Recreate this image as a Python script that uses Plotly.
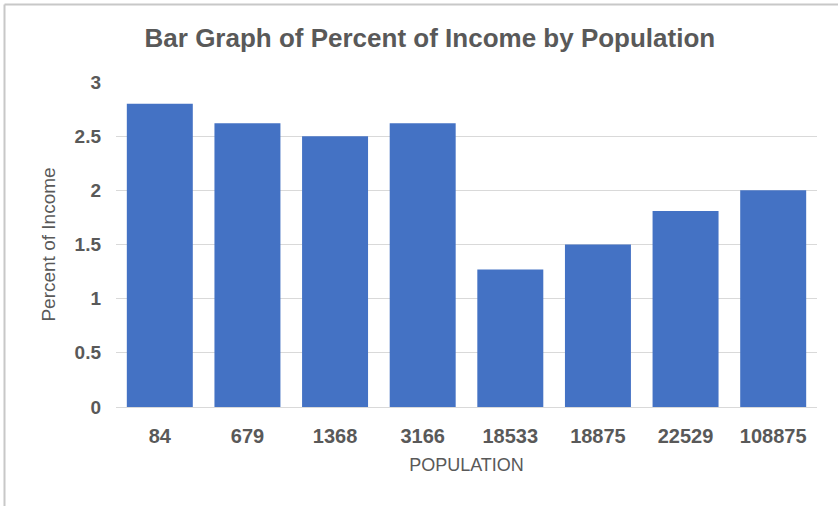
import plotly.graph_objects as go

populations = ["84", "679", "1368", "3166", "18533", "18875", "22529", "108875"]
percent_income = [2.8, 2.62, 2.5, 2.62, 1.27, 1.5, 1.81, 2.0]
y_ticks = [0, 0.5, 1, 1.5, 2, 2.5, 3]
y_tick_text = ["0", "0.5", "1", "1.5", "2", "2.5", "3"]

text_color = "#595959"
font_family = "Arial, Liberation Sans, sans-serif"

fig = go.Figure(
    go.Bar(
        x=populations,
        y=percent_income,
        marker=dict(color="#4472C4", line=dict(width=0)),
    )
)

fig.update_layout(
    width=838,
    height=506,
    margin=dict(l=116, r=21, t=82, b=99, autoexpand=False),
    paper_bgcolor="white",
    plot_bgcolor="white",
    bargap=0.247,
    showlegend=False,
    font=dict(family=font_family, color=text_color),
    title=dict(
        text="<b>Bar Graph of Percent of Income by Population</b>",
        x=0.513,
        xanchor="center",
        xref="container",
        y=1 - 38 / 506,
        yanchor="middle",
        yref="container",
        font=dict(size=26, color=text_color, family=font_family),
    ),
    xaxis=dict(
        type="category",
        showgrid=False,
        showline=True,
        linecolor="#D9D9D9",
        linewidth=1,
        ticks="",
        ticklabelstandoff=11,
        tickfont=dict(size=20, color=text_color, weight="bold"),
        title=dict(text="POPULATION", font=dict(size=18, color=text_color), standoff=12),
        automargin=False,
    ),
    yaxis=dict(
        range=[0, 3],
        tickvals=y_ticks,
        ticktext=y_tick_text,
        showgrid=True,
        gridcolor="#D9D9D9",
        gridwidth=1,
        zeroline=False,
        showline=False,
        ticks="",
        ticklabelstandoff=14,
        tickfont=dict(size=19, color=text_color, weight="bold"),
        title=dict(text="Percent of Income", font=dict(size=19, color=text_color), standoff=13),
        automargin=False,
    ),
    shapes=[
        dict(type="line", xref="paper", yref="paper",
             x0=(4.5 - 116) / 701, x1=(838 - 116) / 701,
             y0=(407 - 4.5) / 325, y1=(407 - 4.5) / 325,
             line=dict(color="#C8C8C8", width=2)),
        dict(type="line", xref="paper", yref="paper",
             x0=(4.5 - 116) / 701, x1=(4.5 - 116) / 701,
             y0=(407 - 4.5) / 325, y1=(407 - 506) / 325,
             line=dict(color="#C8C8C8", width=2)),
    ],
)

fig.write_html(
    "out.html",
    config={"displayModeBar": False},
    post_script="document.body.style.margin='0';",
)
